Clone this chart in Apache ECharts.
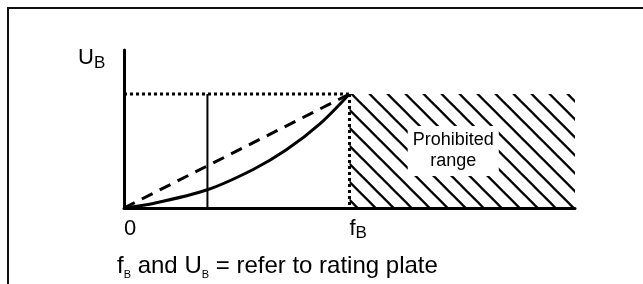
<!DOCTYPE html>
<html>
<head>
<meta charset="utf-8">
<script src="https://cdn.jsdelivr.net/npm/echarts@6/dist/echarts.min.js"></script>
<style>
html,body{margin:0;padding:0;background:#fff;}
#c{width:643px;height:284px;}
</style>
</head>
<body>
<div id="c"></div>
<script>
// ---- data ----
const xTickValues = [0, 1];
const xTickLabels = ['{m|0}', '{m|f}{s|B}'];
const fB = 1;            // rated frequency (normalised)
const UB = 1;            // rated voltage (normalised)
const xMax = 2;
const yMax = 1.386;
const markerF = 0.37;    // solid vertical marker
const linearU = [[0, 0], [1, 1]];                       // dashed U/f line
const quadU = [[0, 0], [0.13, 0.04], [0.37, 0.16], [0.575, 0.34], [0.72, 0.51], [0.87, 0.74], [1, 1]];
const ubLine = [[0, UB], [fB, UB]];
const fbLine = [[fB, UB], [fB, 0]];
const markerLine = [[markerF, 0], [markerF, UB]];
const prohibited = [fB, xMax];

const FONT = '"Liberation Sans", Arial, Helvetica, sans-serif';

// hatch pattern tile
const T = 18, phase = 5.7;
const tile = document.createElement('canvas');
tile.width = T; tile.height = T;
const tc = tile.getContext('2d');
tc.strokeStyle = '#000';
tc.lineWidth = 2.3;
[-T, 0, T].forEach(o => {
  tc.beginPath();
  tc.moveTo(phase + o - 4, -4);
  tc.lineTo(phase + o + T + 4, T + 4);
  tc.stroke();
});

const chart = echarts.init(document.getElementById('c'), null, {renderer: 'canvas'});

const lineBase = {type: 'line', symbol: 'none', silent: true, animation: false};

chart.setOption({
  animation: false,
  backgroundColor: '#fff',
  grid: {left: 124, top: 50, width: 451, height: 158, containLabel: false},
  xAxis: {
    type: 'value', min: 0, max: xMax, interval: 1,
    axisLine: {show: true, onZero: false, lineStyle: {color: '#000', width: 3}},
    axisTick: {show: false},
    splitLine: {show: false},
    axisLabel: {
      show: true, align: 'left', margin: 10,
      formatter: v => { const i = xTickValues.indexOf(v); return i >= 0 ? xTickLabels[i] : ''; },
      rich: {
        m: {fontFamily: FONT, fontSize: 22, lineHeight: 22, color: '#000', verticalAlign: 'top'},
        s: {fontFamily: FONT, fontSize: 17, lineHeight: 17, color: '#000', verticalAlign: 'top', padding: [7, 0, 0, 0]}
      }
    }
  },
  yAxis: {
    type: 'value', min: 0, max: yMax,
    axisLine: {show: true, onZero: false, lineStyle: {color: '#000', width: 3}},
    axisTick: {show: false},
    splitLine: {show: false},
    axisLabel: {show: false}
  },
  graphic: [
    {type: 'rect', silent: true, shape: {x: 8, y: 8, width: 800, height: 500},
     style: {fill: 'none', stroke: '#111', lineWidth: 2}},
    {type: 'text', x: 78, y: 47, silent: true,
     style: {text: '{m|U}{s|B}', rich: {
       m: {fontFamily: FONT, fontSize: 22, lineHeight: 22, fill: '#000', verticalAlign: 'top'},
       s: {fontFamily: FONT, fontSize: 17, lineHeight: 17, fill: '#000', verticalAlign: 'top', padding: [7.5, 0, 0, 0]}
     }}},
    {type: 'text', x: 117, y: 254, silent: true,
     style: {text: '{m|f}{s|B}{m| and U}{s|B}{m| = refer to rating plate}', rich: {
       m: {fontFamily: FONT, fontSize: 24, lineHeight: 24, fill: '#000', verticalAlign: 'top'},
       s: {fontFamily: FONT, fontSize: 11, lineHeight: 11, fill: '#000', verticalAlign: 'top', padding: [15, 0, 0, 0]}
     }}}
  ],
  series: [
    Object.assign({}, lineBase, {
      name: 'prohibited', data: [], z: 1,
      markArea: {
        silent: true,
        itemStyle: {color: {image: tile, repeat: 'repeat'}, borderWidth: 0},
        label: {
          show: true, position: 'inside', offset: [-9, 0],
          formatter: 'Prohibited\nrange',
          fontFamily: FONT, fontSize: 18, lineHeight: 21, color: '#000',
          backgroundColor: '#fff', padding: [4, 5]
        },
        data: [[{xAxis: prohibited[0], yAxis: 0}, {xAxis: prohibited[1], yAxis: UB}]]
      }
    }),
    Object.assign({}, lineBase, {data: ubLine, z: 3, lineStyle: {color: '#000', width: 3, type: [3, 3]}}),
    Object.assign({}, lineBase, {data: fbLine, z: 3, lineStyle: {color: '#000', width: 3, type: [3, 3]}}),
    Object.assign({}, lineBase, {data: markerLine, z: 3, lineStyle: {color: '#000', width: 2}}),
    Object.assign({}, lineBase, {data: linearU, z: 3, lineStyle: {color: '#000', width: 3, type: [12, 8]}}),
    Object.assign({}, lineBase, {data: quadU, z: 3, smooth: 0.3, lineStyle: {color: '#000', width: 3}})
  ]
});
</script>
</body>
</html>
